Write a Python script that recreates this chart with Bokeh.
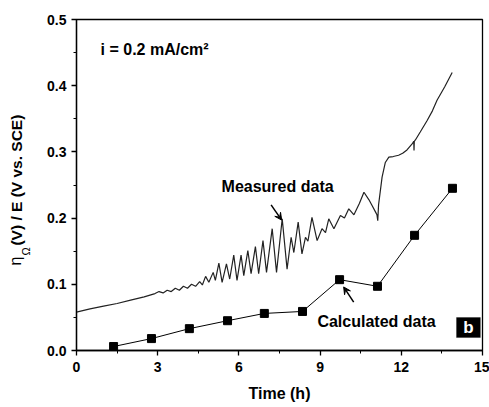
from bokeh.plotting import figure
from bokeh.layouts import row
from bokeh.models import Range1d, Label, Arrow, VeeHead, BoxAnnotation, FixedTicker, PrintfTickFormatter
from bokeh.embed import file_html
from bokeh.resources import INLINE

# Measured data (time in h, voltage in V)
meas_t = [0.0, 0.5, 1.0, 1.5, 2.0, 2.5, 2.9, 3.05, 3.2, 3.35, 3.5, 3.65, 3.8, 3.95, 4.1, 4.25,
          4.4, 4.55, 4.65, 4.77, 4.89, 5.05, 5.13, 5.26, 5.38, 5.54, 5.66, 5.81, 5.93, 6.08, 6.18,
          6.33, 6.45, 6.61, 6.73, 6.89, 7.02, 7.23, 7.39, 7.6, 7.78, 7.93, 8.03, 8.19, 8.33, 8.46,
          8.55, 8.7, 8.89, 9.07, 9.2, 9.32, 9.51, 9.75, 9.9, 10.06, 10.25, 10.45, 10.62, 10.8,
          10.92, 11.05, 11.1, 11.13, 11.16, 11.29, 11.41, 11.54, 11.7, 11.9, 12.05, 12.21, 12.4,
          12.46, 12.47, 12.48, 12.52, 12.7, 12.95, 13.15, 13.32, 13.6, 13.88]
meas_v = [0.058, 0.063, 0.067, 0.071, 0.076, 0.081, 0.086, 0.089, 0.087, 0.091, 0.089, 0.094,
          0.091, 0.097, 0.094, 0.100, 0.097, 0.104, 0.099, 0.112, 0.103, 0.118, 0.106, 0.132,
          0.103, 0.131, 0.108, 0.144, 0.106, 0.144, 0.113, 0.151, 0.116, 0.157, 0.116, 0.166,
          0.118, 0.184, 0.118, 0.199, 0.123, 0.171, 0.148, 0.194, 0.146, 0.171, 0.165, 0.201,
          0.166, 0.184, 0.178, 0.199, 0.184, 0.204, 0.200, 0.214, 0.205, 0.222, 0.239, 0.228,
          0.219, 0.209, 0.205, 0.196, 0.220, 0.262, 0.284, 0.292, 0.293, 0.295, 0.298, 0.303,
          0.312, 0.316, 0.302, 0.316, 0.318, 0.330, 0.347, 0.362, 0.378, 0.398, 0.420]

# Calculated data
calc_t = [1.37, 2.77, 4.17, 5.58, 6.94, 8.35, 9.72, 11.12, 12.49, 13.89]
calc_v = [0.006, 0.018, 0.033, 0.045, 0.056, 0.059, 0.107, 0.097, 0.174, 0.245]

x_ticks = [0, 3, 6, 9, 12, 15]
y_ticks = [0.0, 0.1, 0.2, 0.3, 0.4, 0.5]

FONT = "Liberation Sans"
LEFT_W = 38

p = figure(width=489 - LEFT_W, height=407, x_range=Range1d(0, 15), y_range=Range1d(0, 0.5),
           output_backend="svg", toolbar_location=None,
           min_border_left=76 - LEFT_W, min_border_right=7, min_border_top=19, min_border_bottom=57)
p.grid.visible = False
p.outline_line_color = "black"
p.outline_line_width = 1.3
p.background_fill_color = "white"
p.border_fill_color = "white"

x_minor = [(a + b) / 2 for a, b in zip(x_ticks[:-1], x_ticks[1:])]
y_minor = [(a + b) / 2 for a, b in zip(y_ticks[:-1], y_ticks[1:])]
p.xaxis.ticker = FixedTicker(ticks=x_ticks, minor_ticks=x_minor)
p.yaxis.ticker = FixedTicker(ticks=y_ticks, minor_ticks=y_minor)
p.yaxis.formatter = PrintfTickFormatter(format="%.1f")

for ax in (p.xaxis[0], p.yaxis[0]):
    ax.axis_line_color = "black"
    ax.axis_line_width = 1.3
    ax.major_tick_line_color = "black"
    ax.major_tick_line_width = 1.3
    ax.minor_tick_line_color = "black"
    ax.minor_tick_line_width = 1.0
    ax.major_tick_in = 0
    ax.major_tick_out = 5
    ax.minor_tick_in = 0
    ax.minor_tick_out = 3
    ax.major_label_text_font = FONT
    ax.major_label_text_font_style = "bold"
    ax.major_label_text_font_size = "14px"
    ax.major_label_text_color = "black"
p.xaxis.major_label_standoff = 6
p.yaxis.major_label_standoff = 5
p.xaxis.axis_label = "Time (h)"
p.xaxis.axis_label_text_font = FONT
p.xaxis.axis_label_text_font_style = "bold"
p.xaxis.axis_label_text_font_size = "16px"
p.xaxis.axis_label_text_color = "black"
p.xaxis.axis_label_standoff = 10

# data
p.line(meas_t, meas_v, line_color="#222222", line_width=1.2)
p.line(calc_t, calc_v, line_color="black", line_width=1.0)
p.scatter(calc_t, calc_v, marker="square", size=8, fill_color="black", line_color="black")


def lab(fig, x, y, text, size="16px", style="bold", color="black", **kw):
    l = Label(x=x, y=y, text=text, text_font=FONT, text_font_style=style,
              text_font_size=size, text_color=color, **kw)
    fig.add_layout(l)
    return l


lab(p, 0.89, 0.455, "i = 0.2 mA/cm²", text_baseline="middle")
lab(p, 5.36, 0.248, "Measured data", text_baseline="middle")
lab(p, 8.9, 0.044, "Calculated data", text_baseline="middle")

p.add_layout(Arrow(x_start=7.19, y_start=0.220, x_end=7.58, y_end=0.197, line_width=1.5,
                   end=VeeHead(size=7, fill_color="black", line_color="black")))
p.add_layout(Arrow(x_start=10.24, y_start=0.073, x_end=9.87, y_end=0.096, line_width=1.5,
                   end=VeeHead(size=7, fill_color="black", line_color="black")))

p.add_layout(BoxAnnotation(left=14.04, right=14.92, bottom=0.0196, top=0.0498,
                           fill_color="black", fill_alpha=1.0, line_color="black"))
lab(p, 14.48, 0.0347, "b", size="17px", color="white", text_align="center", text_baseline="middle")

# y-axis title panel (mixed styles: eta normal, Omega subscript, rest bold)
q = figure(width=LEFT_W, height=407, x_range=Range1d(0, LEFT_W), y_range=Range1d(0, 407),
           output_backend="svg", toolbar_location=None, min_border=0,
           x_axis_location=None, y_axis_location=None)
q.grid.visible = False
q.outline_line_color = None
q.background_fill_color = "white"
q.border_fill_color = "white"
lab(q, 15, 110, "η", size="16px", style="normal", text_align="center",
    text_baseline="middle", angle=1.5708)
lab(q, 25, 122, "Ω", size="11px", style="normal", text_align="center",
    text_baseline="middle", angle=1.5708)
lab(q, 16, 129, "(V) / E (V vs. SCE)", size="15.5px", text_align="left",
    text_baseline="middle", angle=1.5708)

layout = row(q, p, spacing=0)
open("out.html", "w").write(file_html(layout, INLINE))
